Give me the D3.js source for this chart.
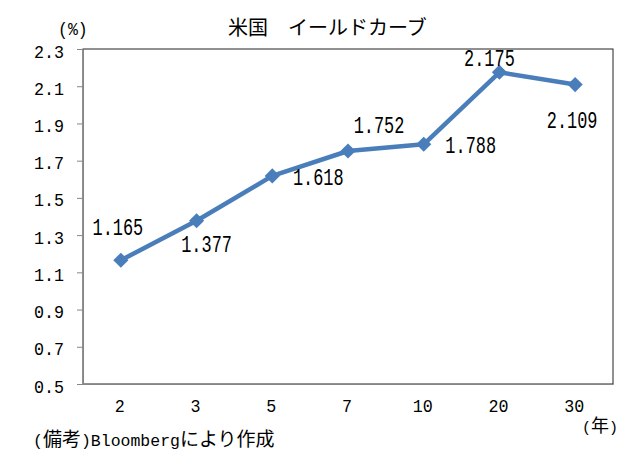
<!DOCTYPE html>
<html><head><meta charset="utf-8">
<script src="https://cdn.jsdelivr.net/npm/d3@7"></script>
<style>
html,body{margin:0;padding:0;background:#fff;}
svg{display:block;}
</style></head>
<body>
<svg id="chart" width="636" height="466"></svg>
<script>
const title = "米国　イールドカーブ";
const yUnit = "(%)";
const xUnitParts = ["(", "年", ")"];
const noteParts = ["(", "備考", ")Bloomberg", "により作成"];
const categories = ["2", "3", "5", "7", "10", "20", "30"];
const yields = [1.165, 1.377, 1.618, 1.752, 1.788, 2.175, 2.109];
const yTicks = [0.5, 0.7, 0.9, 1.1, 1.3, 1.5, 1.7, 1.9, 2.1, 2.3];
// label placement (layout only): dx, dy from marker
const labelOffsets = [[-3,-25],[10,31],[46,9],[31,-18],[47,9],[-10,-6],[-3,43]];

const svg = d3.select("#chart");
const L = 83, R = 613, T = 49, B = 384;
const numFont = "'Liberation Mono', monospace";
const jpFont = "'Noto Sans CJK JP', sans-serif";
const blue = "#4a7ebb";

const x = d3.scaleBand().domain(categories).range([L, R]).padding(0);
const y = d3.scaleLinear().domain([0.5, 2.3]).range([B, T]);
const cx = c => x(c) + x.bandwidth() / 2;

// plot border
svg.append("rect").attr("x", L).attr("y", T).attr("width", R - L).attr("height", B - T)
  .attr("fill", "none").attr("stroke", "#222").attr("stroke-width", 1);

// y axis
const yAxis = svg.append("g").attr("transform", `translate(${L},0)`)
  .call(d3.axisLeft(y).tickValues(yTicks).tickSize(6).tickSizeOuter(0).tickFormat(d3.format(".1f")));
yAxis.select(".domain").attr("stroke", "#868686");
yAxis.selectAll(".tick line").attr("stroke", "#868686");
yAxis.selectAll(".tick text").remove();
yAxis.selectAll(".tick").append("text")
  .attr("text-anchor", "end").attr("fill", "#000")
  .attr("font-family", numFont).attr("font-size", 16.7)
  .attr("transform", "translate(-19,8) scale(1,1.13)")
  .text(d => d3.format(".1f")(d));

// x axis
const xAxis = svg.append("g").attr("transform", `translate(0,${B})`)
  .call(d3.axisBottom(x).tickSize(0).tickSizeOuter(0));
xAxis.select(".domain").attr("stroke", "#868686");
xAxis.selectAll(".tick text").remove();
xAxis.selectAll(".tick").append("text")
  .attr("text-anchor", "middle").attr("fill", "#000")
  .attr("font-family", numFont).attr("font-size", 16.7)
  .attr("transform", "translate(-1,28) scale(1,1.13)")
  .text(d => d);

// line
const line = d3.line().x((d, i) => cx(categories[i])).y(d => y(d));
svg.append("path").datum(yields).attr("d", line)
  .attr("fill", "none").attr("stroke", blue).attr("stroke-width", 4.5)
  .attr("stroke-linejoin", "round");

// markers
svg.selectAll(".mk").data(yields).enter().append("path")
  .attr("class", "mk")
  .attr("d", d3.symbol().type(d3.symbolSquare).size(115))
  .attr("transform", (d, i) => `translate(${cx(categories[i])},${y(d)}) rotate(45)`)
  .attr("fill", blue);

// data labels
svg.selectAll(".lbl").data(yields).enter().append("text")
  .attr("class", "lbl")
  .attr("text-anchor", "middle").attr("fill", "#000")
  .attr("font-family", numFont).attr("font-size", 16.9)
  .attr("transform", (d, i) => `translate(${cx(categories[i]) + labelOffsets[i][0]},${y(d) + labelOffsets[i][1]}) scale(1,1.42)`)
  .text(d => d3.format(".3f")(d));

// title
svg.append("text").attr("x", 228).attr("y", 35).attr("font-family", jpFont)
  .attr("font-size", 20).attr("fill", "#000").text(title);

// units
svg.append("text").attr("transform", "translate(58,35) scale(1,1.13)").attr("font-family", numFont)
  .attr("font-size", 16.5).attr("fill", "#000").text(yUnit);

function mixed(parent, parts, xPos, yPos, jpSize, numSize) {
  const t = parent.append("text").attr("x", xPos).attr("y", yPos).attr("fill", "#000");
  parts.forEach(p => {
    const isJp = /[^\x00-\x7f]/.test(p);
    t.append("tspan").attr("font-family", isJp ? jpFont : numFont)
      .attr("font-size", isJp ? jpSize : numSize).text(p);
  });
  return t;
}
mixed(svg, xUnitParts, 582, 432, 18, 15);
mixed(svg, noteParts, 33, 446, 19, 16.5);
</script>
</body></html>
